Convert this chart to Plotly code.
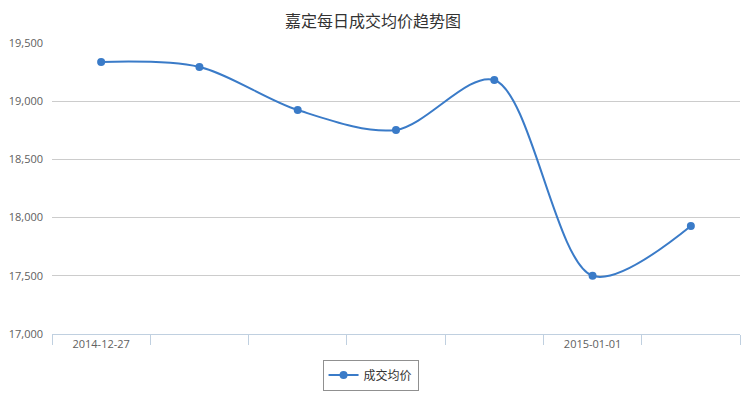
import plotly.graph_objects as go

dates = ["2014-12-27", "2014-12-28", "2014-12-29", "2014-12-30", "2014-12-31", "2015-01-01", "2015-01-02"]
prices = [19337, 19294, 18924, 18753, 19182, 17500, 17928]
label_idx = [0, 5]
y_ticks = [17000, 17500, 18000, 18500, 19000, 19500]

xs = list(range(len(dates)))

fig = go.Figure()
fig.add_trace(go.Scatter(
    x=xs, y=prices, mode="lines+markers", name="成交均价",
    line=dict(color="#3a7bc8", width=2, shape="spline", smoothing=0.9),
    marker=dict(color="#3a7bc8", size=8),
))

fig.update_layout(
    width=746, height=398,
    margin=dict(l=52, r=6, t=43, b=64),
    paper_bgcolor="white", plot_bgcolor="white",
    font=dict(family="Noto Sans CJK SC, Noto Sans, sans-serif", color="#606060"),
    title=dict(text="嘉定每日成交均价趋势图", x=0.5, xanchor="center", y=0.945, yanchor="middle",
               font=dict(size=16, color="#333333", family="Noto Sans CJK SC")),
    showlegend=True,
    legend=dict(orientation="h", x=0.463, xanchor="center", y=-0.141, yanchor="middle",
                bordercolor="#909090", borderwidth=1, bgcolor="white", itemwidth=30,
                font=dict(size=12, color="#333333")),
    xaxis=dict(
        range=[-0.5, len(dates) - 0.5],
        tickmode="array", tickvals=[xs[i] for i in label_idx], ticktext=[dates[i] for i in label_idx],
        ticks="", ticklen=0, showgrid=False, zeroline=False,
        showline=True, linecolor="#C0D0E0", linewidth=1,
        tickfont=dict(size=11, color="#606060", family="Open Sans"),
        minor=dict(tickmode="array", tickvals=[i - 0.5 for i in range(len(dates) + 1)],
                   ticks="outside", ticklen=10, tickcolor="#C0D0E0", showgrid=False),
    ),
    yaxis=dict(
        range=[17000, 19500], tickmode="array", tickvals=y_ticks,
        ticktext=[f"{v:,}" for v in y_ticks],
        showgrid=True, gridcolor="#CCCCCC", gridwidth=1, zeroline=False,
        showline=False, ticks="", ticklabelstandoff=8,
        tickfont=dict(size=11, color="#606060", family="Open Sans"),
    ),
)

fig.write_html("out.html")
